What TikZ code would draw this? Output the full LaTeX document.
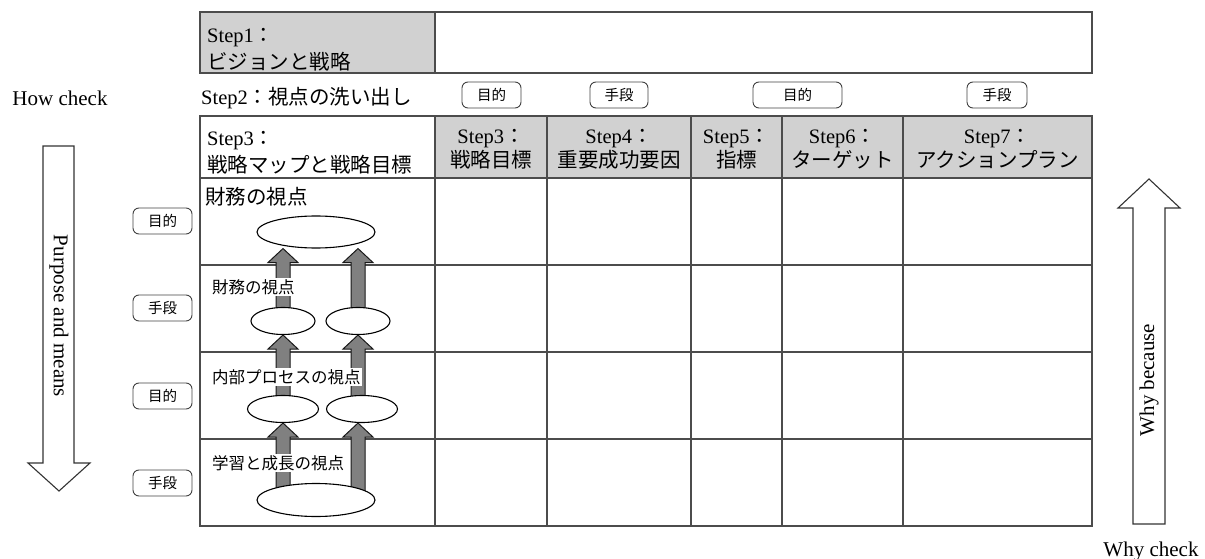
\documentclass[tikz,border=0pt]{standalone}
\usepackage{fontspec}
\setmainfont{Liberation Serif}
\newfontfamily\jp{Noto Sans CJK JP}
\usetikzlibrary{shapes.geometric,calc}
\pgfdeclarelayer{fg}
\pgfsetlayers{main,fg}
\tikzset{
  gridline/.style={draw=black!70, line width=1.2pt},
  hdr/.style={fill=black!18},
  tag/.style={draw=black!75, line width=0.9pt, rounded corners=6pt, minimum height=26pt, inner sep=0pt, font=\jp\fontsize{14.5}{15}\selectfont},
  oval/.style={ellipse, draw=black, line width=1.1pt, fill=white, inner sep=0pt},
  blk/.style={fill=black!50, draw=black!90, line width=1pt, line join=miter},
  bigarrow/.style={draw=black!80, line width=1.1pt, fill=white},
  lab/.style={font=\jp\fontsize{16.5}{17}\selectfont, fill=white, inner sep=1pt, anchor=west},
  txt/.style={font=\fontsize{20.5}{27}\selectfont, align=left, anchor=north west, inner sep=0pt},
  ctxt/.style={font=\fontsize{20.5}{24}\selectfont, align=center, inner sep=0pt},
  eng/.style={font=\fontsize{21}{21}\selectfont, inner sep=0pt}
}
\newcommand\uparr[3]{% x, from node, to node
  \draw[blk] let \p1=(#2.center), \p2=(#3.south) in
    ({#1pt-7pt},\y1) -- ({#1pt-7pt},{\y2-14pt}) -- ({#1pt-15pt},{\y2-14pt}) -- (#1pt,\y2)
    -- ({#1pt+15pt},{\y2-14pt}) -- ({#1pt+7pt},{\y2-14pt}) -- ({#1pt+7pt},\y1) -- cycle;
}
\begin{document}
\begin{tikzpicture}[x=1pt,y=-1pt]
\useasboundingbox (0,0) rectangle (1205,559);

% Step1 row
\fill[hdr] (200,12) rectangle (435,73);
\draw[gridline] (200,12) rectangle (1092,73);
\draw[gridline] (435,12) -- (435,73);
\node[txt] (s1) at (207,28) {Step1{\jp ：}\\{\jp ビジョンと戦略}};

% Step2 row
\node[anchor=west, font=\fontsize{20.5}{25}\selectfont, inner sep=0pt] (s2) at (201,98) {Step2{\jp ：視点の洗い出し}};
\node[tag, minimum width=59pt] (t1) at (491.5,95) {目的};
\node[tag, minimum width=58pt] (t2) at (619,95) {手段};
\node[tag, minimum width=89pt] (t3) at (797.5,95) {目的};
\node[tag, minimum width=60pt] (t4) at (997,95) {手段};

% Step3 table
\fill[hdr] (435,116) rectangle (1092,178);
\draw[gridline] (200,116) rectangle (1092,526);
\foreach \cx in {435,547,691,782,903} \draw[gridline] (\cx,116) -- (\cx,526);
\foreach \ry in {178,265,352,439} \draw[gridline] (200,\ry) -- (1092,\ry);

\node[txt] (h0) at (207,131) {Step3{\jp ：}\\{\jp 戦略マップと戦略目標}};
\node[ctxt] (h1) at (491,149) {Step3{\jp ：}\\{\jp 戦略目標}};
\node[ctxt] (h2) at (619,149) {Step4{\jp ：}\\{\jp 重要成功要因}};
\node[ctxt] (h3) at (736.5,149) {Step5{\jp ：}\\{\jp 指標}};
\node[ctxt] (h4) at (842.5,149) {Step6{\jp ：}\\{\jp ターゲット}};
\node[ctxt] (h5) at (997.5,149) {Step7{\jp ：}\\{\jp アクションプラン}};

% left tags
\node[tag, minimum width=59pt] (l1) at (162.5,221) {目的};
\node[tag, minimum width=59pt] (l2) at (162.5,308) {手段};
\node[tag, minimum width=59pt] (l3) at (162.5,396) {目的};
\node[tag, minimum width=59pt] (l4) at (162.5,483) {手段};

% strategy map
\begin{pgfonlayer}{fg}
\node[anchor=west, inner sep=0pt, font=\jp\fontsize{20.5}{21}\selectfont] (p1) at (205,197) {財務の視点};
\node[oval, minimum width=118pt, minimum height=32pt] (e1) at (316,232) {};
\node[oval, minimum width=64pt, minimum height=27pt] (e2a) at (283,321) {};
\node[oval, minimum width=64pt, minimum height=27pt] (e2b) at (358,321) {};
\node[oval, minimum width=71pt, minimum height=27pt] (e3a) at (283,409) {};
\node[oval, minimum width=71pt, minimum height=27pt] (e3b) at (362,409) {};
\node[oval, minimum width=118pt, minimum height=33pt] (e4) at (316,500) {};
\node[lab] (p2) at (211,287) {財務の視点};
\node[lab] (p3) at (211,377) {内部プロセスの視点};
\node[lab] (p4) at (211,463) {学習と成長の視点};
\end{pgfonlayer}
\uparr{283}{e2a}{e1}
\uparr{358}{e2b}{e1}
\uparr{283}{e3a}{e2a}
\uparr{358}{e3b}{e2b}
\uparr{283}{e4}{e3a}
\uparr{358}{e4}{e3b}

% left big arrow
\node[eng] (hc) at (60,98) {How check};
\draw[bigarrow] (43,146) -- (74,146) -- (74,463) -- (90,463) -- (59,491) -- (28,463) -- (43,463) -- cycle;
\node[eng, rotate=-90] (pm) at (59,316) {Purpose and means};

% right big arrow
\draw[bigarrow] (1133,524) -- (1133,208) -- (1118,208) -- (1149,179) -- (1180,208) -- (1165,208) -- (1165,524) -- cycle;
\node[eng, rotate=90] (wb) at (1149,380) {Why because};
\node[eng] (wc) at (1151,551) {Why check};
\end{tikzpicture}
\end{document}
